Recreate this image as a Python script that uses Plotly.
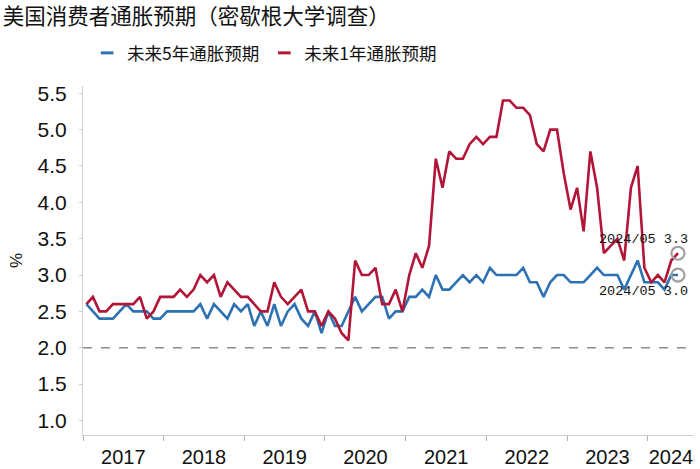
import pandas as pd
import plotly.graph_objects as go

# ---------------- data ----------------
months = list(pd.date_range("2017-01-01", "2024-05-01", freq="MS").strftime("%Y-%m-%d"))

exp_1y = [
    2.6, 2.7, 2.5, 2.5, 2.6, 2.6, 2.6, 2.6, 2.7, 2.4, 2.5, 2.7,  # 2017
    2.7, 2.7, 2.8, 2.7, 2.8, 3.0, 2.9, 3.0, 2.7, 2.9, 2.8, 2.7,  # 2018
    2.7, 2.6, 2.5, 2.5, 2.9, 2.7, 2.6, 2.7, 2.8, 2.5, 2.5, 2.3,  # 2019
    2.5, 2.4, 2.2, 2.1, 3.2, 3.0, 3.0, 3.1, 2.6, 2.6, 2.8, 2.5,  # 2020
    3.0, 3.3, 3.1, 3.4, 4.6, 4.2, 4.7, 4.6, 4.6, 4.8, 4.9, 4.8,  # 2021
    4.9, 4.9, 5.4, 5.4, 5.3, 5.3, 5.2, 4.8, 4.7, 5.0, 5.0, 4.4,  # 2022
    3.9, 4.2, 3.6, 4.7, 4.2, 3.3, 3.4, 3.5, 3.2, 4.2, 4.5, 3.1,  # 2023
    2.9, 3.0, 2.9, 3.2, 3.3,                                    # 2024
]

exp_5y = [
    2.6, 2.5, 2.4, 2.4, 2.4, 2.5, 2.6, 2.5, 2.5, 2.5, 2.4, 2.4,  # 2017
    2.5, 2.5, 2.5, 2.5, 2.5, 2.6, 2.4, 2.6, 2.5, 2.4, 2.6, 2.5,  # 2018
    2.6, 2.3, 2.5, 2.3, 2.6, 2.3, 2.5, 2.6, 2.4, 2.3, 2.5, 2.2,  # 2019
    2.5, 2.3, 2.3, 2.5, 2.7, 2.5, 2.6, 2.7, 2.7, 2.4, 2.5, 2.5,  # 2020
    2.7, 2.7, 2.8, 2.7, 3.0, 2.8, 2.8, 2.9, 3.0, 2.9, 3.0, 2.9,  # 2021
    3.1, 3.0, 3.0, 3.0, 3.0, 3.1, 2.9, 2.9, 2.7, 2.9, 3.0, 3.0,  # 2022
    2.9, 2.9, 2.9, 3.0, 3.1, 3.0, 3.0, 3.0, 2.8, 3.0, 3.2, 2.9,  # 2023
    2.9, 2.9, 2.8, 3.0, 3.0,                                    # 2024
]

year_labels = ["2017", "2018", "2019", "2020", "2021", "2022", "2023", "2024"]
y_ticks = [1.0, 1.5, 2.0, 2.5, 3.0, 3.5, 4.0, 4.5, 5.0, 5.5]
target_level = 2.0
last_label = "2024/05"

title_text = "美国消费者通胀预期（密歇根大学调查）"
name_5y = "未来5年通胀预期"
name_1y = "未来1年通胀预期"

# ---------------- styling ----------------
BLUE = "#2E72B4"
RED = "#B11538"
GREY_AXIS = "#D0D0D0"
CJK = "Noto Sans CJK SC"
LAT = "Liberation Sans"

x_start = "2017-01-01"
x_end = "2024-07-28"

fig = go.Figure()

for name, vals, col in [(name_5y, exp_5y, BLUE), (name_1y, exp_1y, RED)]:
    fig.add_trace(go.Scatter(
        x=months, y=vals, mode="lines", name=name,
        xperiod="M1", xperiodalignment="middle",
        line=dict(color=col, width=2.6), showlegend=False, legendgroup=name,
        hoverinfo="skip",
    ))
    # short dash legend entries
    fig.add_trace(go.Scatter(
        x=[None], y=[None], mode="markers", name=name, legendgroup=name,
        marker=dict(symbol="line-ew", size=9, line=dict(color=col, width=3)),
        showlegend=True,
    ))

# end-point circles
for vals in (exp_1y, exp_5y):
    fig.add_trace(go.Scatter(
        x=[months[-1]], y=[vals[-1]], mode="markers",
        xperiod="M1", xperiodalignment="middle",
        marker=dict(symbol="circle-open", size=13, color="#A0A0A0", line=dict(width=2.2)),
        showlegend=False, hoverinfo="skip",
    ))

# dashed 2% line
fig.add_shape(type="line", xref="paper", x0=0, x1=1, yref="y", y0=target_level, y1=target_level,
              line=dict(color="#8C8C8C", width=1.5, dash="dash"), layer="below")

# year label positions: middle of each year's visible part
ts0, ts1 = pd.Timestamp(x_start), pd.Timestamp(x_end)
tickvals = []
for y in year_labels:
    a = max(pd.Timestamp(f"{y}-01-01"), ts0)
    b = min(pd.Timestamp(f"{int(y)+1}-01-01"), ts1)
    tickvals.append((a + (b - a) / 2).strftime("%Y-%m-%d %H:%M"))

ann_font = dict(family="Liberation Mono", size=13.5, color="#111111")
last_x = pd.Timestamp(months[-1]) + pd.Timedelta(days=15)
fig.add_annotation(x=last_x, y=exp_1y[-1], text=f"{last_label} {exp_1y[-1]:.1f}",
                   showarrow=False, xanchor="right", xshift=12, yshift=14, font=ann_font)
fig.add_annotation(x=last_x, y=exp_5y[-1], text=f"{last_label} {exp_5y[-1]:.1f}",
                   showarrow=False, xanchor="right", xshift=12, yshift=-16, font=ann_font)

fig.update_layout(
    width=700, height=469,
    margin=dict(l=83, r=6, t=86, b=34),
    paper_bgcolor="white", plot_bgcolor="white",
    title=dict(text=title_text, x=0.004, xref="container", xanchor="left",
               y=1 - 16 / 469, yref="container", yanchor="middle",
               font=dict(family=CJK, size=21.5, color="#111111")),
    legend=dict(orientation="h", xref="container", yref="container",
                x=0.378, xanchor="center", y=1 - 53 / 469, yanchor="middle",
                font=dict(family=CJK, size=17.5, color="#111111"),
                itemwidth=30, tracegroupgap=0, bgcolor="rgba(0,0,0,0)"),
    font=dict(family=LAT, color="#111111"),
    showlegend=True,
)

fig.update_xaxes(
    type="date", range=[x_start, x_end], autorange=False,
    tickmode="array", tickvals=tickvals, ticktext=year_labels,
    ticks="", showgrid=False, zeroline=False,
    showline=True, linecolor=GREY_AXIS, linewidth=1.2,
    tickfont=dict(family=LAT, size=20, color="#111111"),
    ticklabelstandoff=4,
    minor=dict(tickmode="linear", tick0=x_start, dtick="M12", ticks="outside",
               ticklen=5, tickcolor="#B0B0B0", tickwidth=1.2, showgrid=False),
    automargin=False,
)

fig.update_yaxes(
    range=[0.8, 5.6], autorange=False,
    tickmode="array", tickvals=y_ticks, ticktext=[f"{v:.1f}" for v in y_ticks],
    ticks="outside", ticklen=3, tickcolor=GREY_AXIS,
    showgrid=False, zeroline=False,
    showline=True, linecolor=GREY_AXIS, linewidth=1.2,
    tickfont=dict(family=LAT, size=21, color="#111111"),
    ticklabelstandoff=8,
    title=dict(text="%", font=dict(family=LAT, size=17, color="#111111"), standoff=10),
    automargin=False,
)

fig.write_html(
    "out.html",
    config={"displayModeBar": False},
    post_script="document.body.style.margin='0';document.body.style.overflow='hidden';",
)
